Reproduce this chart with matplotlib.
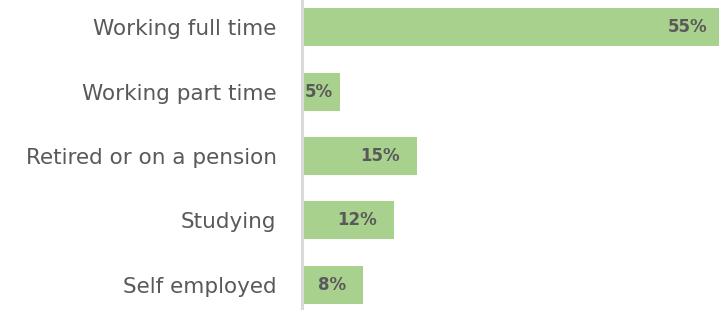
import matplotlib
matplotlib.use('Agg')
import matplotlib.pyplot as plt

categories = ['Working full time', 'Working part time', 'Retired or on a pension', 'Studying', 'Self employed']
values = [55, 5, 15, 12, 8]
value_labels = ['55%', '5%', '15%', '12%', '8%']

BAR = '#a9d18e'; TXT = '#595959'; AX = '#d9d9d9'

fig = plt.figure(figsize=(7.19, 3.10), dpi=100)
ax = fig.add_axes([0.4195, 0.0, 0.5805, 1.0])
y = list(range(len(categories)))
bars = ax.barh(y, values, height=0.59, color=BAR, edgecolor='none')
ax.set_xlim(0, 54.3)
ax.set_ylim(4.39, -0.42)
ax.set_yticks(y)
ax.set_yticklabels(categories, fontsize=15.5, color=TXT, family='DejaVu Sans')
ax.tick_params(axis='y', length=0, pad=18)
ax.set_xticks([])
for s in ['top', 'right', 'bottom']:
    ax.spines[s].set_visible(False)
ax.spines['left'].set_color(AX)
ax.spines['left'].set_linewidth(2.2)
for b, lab in zip(bars, value_labels):
    yc = b.get_y() + b.get_height() / 2
    if b.get_width() < 8:
        # too short for an inside-end label: sit it at the base of the bar
        ax.annotate(lab, xy=(0, yc), xytext=(2.2, 0), textcoords='offset points',
                    ha='left', va='center', fontsize=12, fontweight='bold', color=TXT)
    else:
        ax.annotate(lab, xy=(b.get_width(), yc), xytext=(-12.2, 0), textcoords='offset points',
                    ha='right', va='center', fontsize=12, fontweight='bold', color=TXT,
                    annotation_clip=False)

fig.savefig('out.png', dpi=100)
